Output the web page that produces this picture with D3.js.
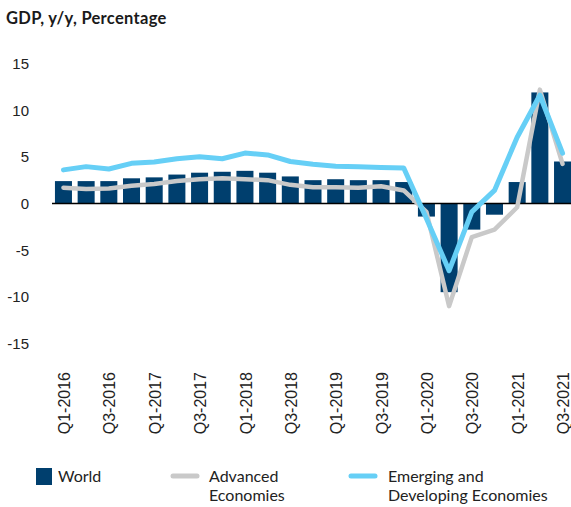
<!DOCTYPE html>
<html>
<head>
<meta charset="utf-8">
<script src="https://cdn.jsdelivr.net/npm/d3@7"></script>
<style>
  body { margin: 0; background: #fff; }
  svg { display: block; }
</style>
</head>
<body>
<svg id="chart" width="571" height="507"></svg>
<script>
// quarters, Q1-2016 .. Q3-2021
const quarters = ['Q1-2016','Q2-2016','Q3-2016','Q4-2016','Q1-2017','Q2-2017','Q3-2017','Q4-2017',
  'Q1-2018','Q2-2018','Q3-2018','Q4-2018','Q1-2019','Q2-2019','Q3-2019','Q4-2019',
  'Q1-2020','Q2-2020','Q3-2020','Q4-2020','Q1-2021','Q2-2021','Q3-2021'];

const world = [2.4, 2.4, 2.4, 2.7, 2.8, 3.1, 3.3, 3.4, 3.5, 3.3, 2.9, 2.5, 2.6, 2.5, 2.5, 2.3,
  -1.4, -9.5, -2.8, -1.2, 2.3, 11.9, 4.5];
const advanced = [1.7, 1.55, 1.6, 1.9, 2.1, 2.4, 2.6, 2.7, 2.6, 2.5, 2.0, 1.75, 1.75, 1.7, 1.85, 1.4,
  -0.9, -11.0, -3.6, -2.8, -0.4, 12.2, 4.25];
const emerging = [3.6, 3.95, 3.7, 4.3, 4.45, 4.8, 5.0, 4.8, 5.4, 5.2, 4.5, 4.2, 4.0, 3.95, 3.85, 3.8,
  -1.6, -7.2, -0.9, 1.4, 7.1, 11.6, 5.4];

const yTicks = [-15, -10, -5, 0, 5, 10, 15];

const navy = '#003f6e', grey = '#c9c9c9', sky = '#66cff6';

const svg = d3.select('#chart');

const x = d3.scaleBand()
  .domain(quarters)
  .range([52, 574])
  .paddingInner(0.25)
  .paddingOuter(0.13);

const y = d3.scaleLinear()
  .domain([-15, 15])
  .range([343.5, 63.5]);

// title
svg.append('text')
  .attr('x', 6)
  .attr('y', 24)
  .style('font-family', 'Lato, sans-serif')
  .style('font-weight', 'bold')
  .style('font-size', '16.5px')
  .style('letter-spacing', '0.3px')
  .style('fill', '#1a1a1a')
  .text('GDP, y/y, Percentage');

// y axis labels
svg.append('g')
  .selectAll('text')
  .data(yTicks)
  .join('text')
  .attr('x', 29)
  .attr('y', d => y(d))
  .attr('dy', '0.36em')
  .attr('text-anchor', 'end')
  .style('font-family', '"Liberation Sans", Arial, sans-serif')
  .style('font-size', '15px')
  .style('fill', '#222')
  .text(d => d);

// bars
svg.append('g')
  .selectAll('rect')
  .data(world)
  .join('rect')
  .attr('x', (d, i) => x(quarters[i]))
  .attr('width', x.bandwidth())
  .attr('y', d => y(Math.max(0, d)))
  .attr('height', d => Math.abs(y(d) - y(0)))
  .attr('fill', navy);

// zero line
svg.append('line')
  .attr('x1', 52)
  .attr('x2', 574)
  .attr('y1', y(0))
  .attr('y2', y(0))
  .attr('stroke', '#000')
  .attr('stroke-width', 1.5);

const line = d3.line()
  .x((d, i) => x(quarters[i]) + x.bandwidth() / 2)
  .y(d => y(d));

svg.append('path')
  .datum(advanced)
  .attr('d', line)
  .attr('fill', 'none')
  .attr('stroke', grey)
  .attr('stroke-width', 4.5)
  .attr('stroke-linejoin', 'round')
  .attr('stroke-linecap', 'round');

svg.append('path')
  .datum(emerging)
  .attr('d', line)
  .attr('fill', 'none')
  .attr('stroke', sky)
  .attr('stroke-width', 5)
  .attr('stroke-linejoin', 'round')
  .attr('stroke-linecap', 'round');

// x labels, every other quarter
svg.append('g')
  .selectAll('text')
  .data(quarters.filter((q, i) => i % 2 === 0))
  .join('text')
  .attr('transform', d => `translate(${x(d) + x.bandwidth() / 2 + 1},372) rotate(-90)`)
  .attr('dy', '0.35em')
  .attr('text-anchor', 'end')
  .style('font-family', '"Liberation Sans", Arial, sans-serif')
  .style('font-size', '16px')
  .style('fill', '#222')
  .text(d => d);

// legend
const lg = svg.append('g')
  .style('font-family', 'Lato, sans-serif')
  .style('font-size', '16px')
  .style('fill', '#222');

lg.append('rect')
  .attr('x', 36).attr('y', 468)
  .attr('width', 16).attr('height', 17)
  .attr('fill', navy);
lg.append('text').attr('x', 58).attr('y', 482).text('World');

lg.append('line')
  .attr('x1', 173).attr('x2', 197)
  .attr('y1', 476).attr('y2', 476)
  .attr('stroke', grey).attr('stroke-width', 5)
  .attr('stroke-linecap', 'round');
lg.append('text').attr('x', 209).attr('y', 482).text('Advanced');
lg.append('text').attr('x', 209).attr('y', 501).text('Economies');

lg.append('line')
  .attr('x1', 351).attr('x2', 375)
  .attr('y1', 476).attr('y2', 476)
  .attr('stroke', sky).attr('stroke-width', 5)
  .attr('stroke-linecap', 'round');
lg.append('text').attr('x', 388).attr('y', 482).text('Emerging and');
lg.append('text').attr('x', 388).attr('y', 501).text('Developing Economies');
</script>
</body>
</html>
